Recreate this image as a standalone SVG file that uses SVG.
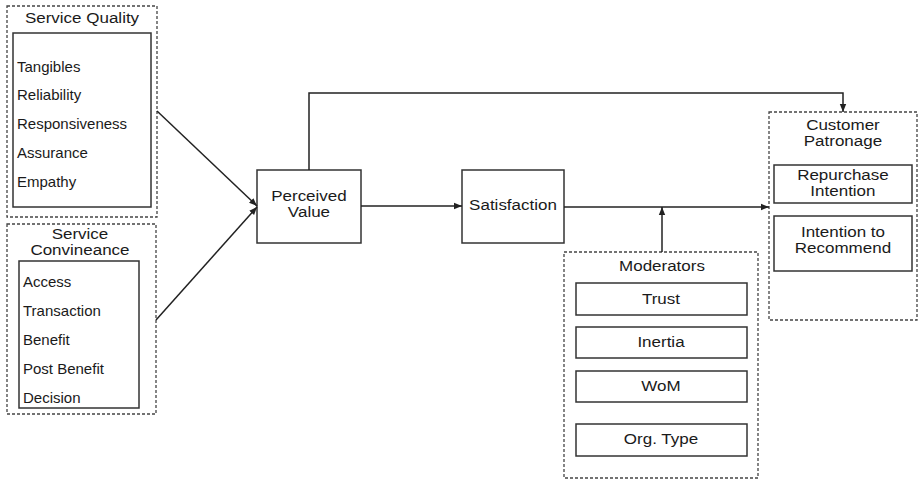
<svg xmlns="http://www.w3.org/2000/svg" width="919" height="481" viewBox="0 0 919 481">
<style>
text{font-family:"Liberation Sans",Arial,sans-serif;fill:#1a1a1a}
.t{font-size:15px;text-anchor:middle}
.i{font-size:15px}
.dash{fill:none;stroke:#444;stroke-width:1.3;stroke-dasharray:3,2}
.box{fill:#fff;stroke:#333;stroke-width:1.5}
.c{fill:none;stroke:#222;stroke-width:1.5}
</style>
<defs>
<marker id="ah" viewBox="0 0 10 10" refX="10" refY="5" markerWidth="8" markerHeight="8" markerUnits="userSpaceOnUse" orient="auto">
<path d="M0,1 L10,5 L0,9 Z" fill="#222"/>
</marker>
</defs>
<rect width="919" height="481" fill="#fff"/>
<g id="service-quality">
<rect class="dash" x="7" y="6" width="150" height="211"/>
<rect class="box" x="13" y="33" width="138" height="174"/>
<g transform="scale(1.133,1)"><text class="t" x="72.4" y="23">Service Quality</text></g>
<text class="i" x="17" y="72">Tangibles</text>
<text class="i" x="17" y="100">Reliability</text>
<text class="i" x="17" y="129">Responsiveness</text>
<text class="i" x="17" y="158">Assurance</text>
<text class="i" x="17" y="187">Empathy</text>
</g>
<g id="service-convineance">
<rect class="dash" x="7" y="224" width="149" height="190"/>
<rect class="box" x="19" y="261" width="120" height="147"/>
<g transform="scale(1.133,1)">
<text class="t" x="70.6" y="239">Service</text>
<text class="t" x="70.6" y="255">Convineance</text>
</g>
<text class="i" x="23" y="287">Access</text>
<text class="i" x="23" y="316">Transaction</text>
<text class="i" x="23" y="345">Benefit</text>
<text class="i" x="23" y="374">Post Benefit</text>
<text class="i" x="23" y="403">Decision</text>
</g>
<g id="perceived-value">
<rect class="box" x="257" y="170" width="104" height="73"/>
<g transform="scale(1.133,1)">
<text class="t" x="272.7" y="201">Perceived</text>
<text class="t" x="272.7" y="217">Value</text>
</g>
</g>
<g id="satisfaction">
<rect class="box" x="462" y="170" width="102" height="73"/>
<g transform="scale(1.133,1)"><text class="t" x="452.8" y="210">Satisfaction</text></g>
</g>
<g id="customer-patronage">
<rect class="dash" x="769" y="112" width="148" height="208"/>
<rect class="box" x="774" y="165" width="138" height="38"/>
<rect class="box" x="774" y="216" width="138" height="55"/>
<g transform="scale(1.133,1)">
<text class="t" x="744" y="130">Customer</text>
<text class="t" x="744" y="146">Patronage</text>
<text class="t" x="744" y="180">Repurchase</text>
<text class="t" x="744" y="196">Intention</text>
<text class="t" x="744" y="237">Intention to</text>
<text class="t" x="744" y="253">Recommend</text>
</g>
</g>
<g id="moderators">
<rect class="dash" x="564" y="252" width="194" height="226"/>
<rect class="box" x="576" y="283" width="171" height="32"/>
<rect class="box" x="576" y="327" width="171" height="31"/>
<rect class="box" x="576" y="371" width="171" height="31"/>
<rect class="box" x="576" y="424" width="171" height="32"/>
<g transform="scale(1.133,1)">
<text class="t" x="584.3" y="271">Moderators</text>
<text class="t" x="583.4" y="304">Trust</text>
<text class="t" x="583.4" y="347">Inertia</text>
<text class="t" x="583.4" y="391">WoM</text>
<text class="t" x="583.4" y="444">Org. Type</text>
</g>
</g>
<g id="connectors">
<line class="c" x1="157" y1="111" x2="257" y2="206" marker-end="url(#ah)"/>
<line class="c" x1="156" y1="320" x2="257" y2="207" marker-end="url(#ah)"/>
<line class="c" x1="361" y1="206" x2="462" y2="206" marker-end="url(#ah)"/>
<line class="c" x1="564" y1="207" x2="769" y2="207" marker-end="url(#ah)"/>
<line class="c" x1="662" y1="252" x2="662" y2="207" marker-end="url(#ah)"/>
<polyline class="c" points="309,170 309,93 843,93 843,112" marker-end="url(#ah)"/>
</g>
</svg>
